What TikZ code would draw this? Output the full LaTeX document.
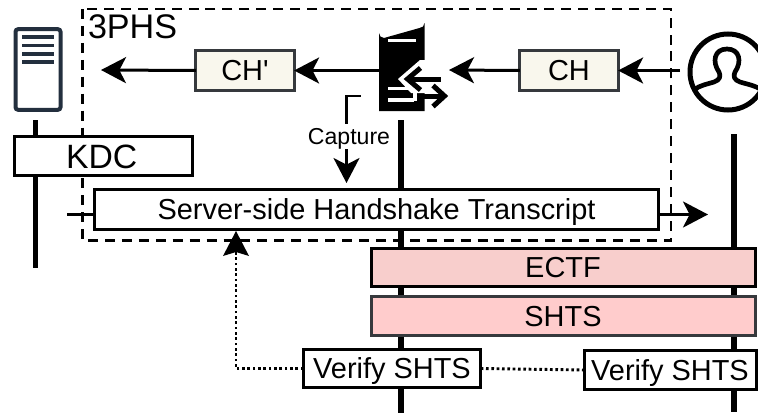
\documentclass[tikz,border=0pt]{standalone}
\usepackage{fontspec}
\setmainfont{Liberation Sans}
\usetikzlibrary{arrows.meta}
\definecolor{creamfill}{HTML}{F9F7ED}
\definecolor{greystroke}{HTML}{36393D}
\definecolor{ectffill}{HTML}{F8CECC}
\definecolor{shtsfill}{HTML}{FFCCCC}
\definecolor{awsnavy}{HTML}{232F3E}
\tikzset{
  tbox/.style={draw=black,line width=2.25pt,fill=white,inner sep=0pt,outer sep=0pt,text height=15.6pt,text depth=0pt,font=\fontsize{21.7}{24}\selectfont},
  msgbox/.style={tbox,draw=greystroke,fill=creamfill,minimum width=73.7pt,minimum height=30pt},
  keybox/.style={tbox,minimum width=288pt,minimum height=29pt},
  verbox/.style={tbox,minimum height=29.2pt},
  flow/.style={line width=2.25pt,-{Stealth[length=18.75pt,width=19.5pt,inset=5pt]}},
  lifeline/.style={line width=4.4pt,black},
  dotflow/.style={line width=2.2pt,dash pattern=on 2pt off 2pt},
  scopebox/.style={line width=2.1pt,dash pattern=on 7.5pt off 5.2pt},
  ghost/.style={inner sep=0pt,outer sep=0pt}
}
\begin{document}
\begin{tikzpicture}[x=0.75pt,y=-0.75pt]
\useasboundingbox (0,0) rectangle (758,414);
\clip (0,0) rectangle (758,414);
% outer dashed frame
\draw[scopebox] (82.5,9) rectangle (671,240.5);
\node[ghost,anchor=base west,font=\fontsize{25.6}{28}\selectfont] (phs) at (88,38) {3PHS};
% lifeline end points
\coordinate (kdcTop) at (35.5,120);
\coordinate (kdcEnd) at (35.5,268);
\coordinate (srvTop) at (400.7,120);
\coordinate (srvEnd) at (400.7,413);
\coordinate (usrTop) at (733.7,134);
\coordinate (usrEnd) at (733.7,412);
\draw[lifeline] (kdcTop) -- (kdcEnd);
\draw[lifeline] (srvTop) -- (srvEnd);
\draw[lifeline] (usrTop) -- (usrEnd);
% KDC icon
\node[ghost,draw=awsnavy,line width=3pt,rounded corners=2pt,minimum width=33.75pt,minimum height=60.5pt,fill=white] (kdcIcon) at (38,69.5) {};
\foreach \yy in {37,45.3,54,62.2}
  \draw[awsnavy,line width=2.6pt] (22,\yy) -- (54,\yy);
% server icon
\node[ghost,minimum width=33.75pt,minimum height=62pt] (srv) at (401.5,70) {};
\fill[black] (379,111) -- (379,33) arc[start angle=180,end angle=90,radius=5] -- (419.5,28) arc[start angle=90,end angle=0,radius=5] -- (424.5,111) -- cycle;
\draw[white,line width=2.7pt] (388,40.5) -- (416,40.5);
\fill[white] (426,60) -- (420,60) -- (398,79) -- (411,93) -- (426,93) -- cycle;
\draw[white,line width=2.4pt] (388,88.5) -- (414,88.5);
\draw[white,line width=2.4pt] (388,100) -- (414,100);
\fill[white] (413,87) rectangle (417,101.2);
\draw[black,line width=3.75pt] (410,79) -- (441,79);
\draw[black,line width=3.75pt,miter limit=10] (420.5,68) -- (407.5,79) -- (420.5,90);
\draw[black,line width=3.75pt] (417,96) -- (443,96);
\draw[black,line width=3.75pt,miter limit=10] (433,85.5) -- (444.5,96) -- (433,106.5);
% user icon
\node[ghost,circle,minimum size=72pt] (usr) at (728,72) {};
\draw[black,line width=3.75pt] (728,72) circle[radius=38];
\draw[black,line width=3.5pt,line join=round] (694,90)
  .. controls (700,85) and (708,84) .. (714,82)
  .. controls (720,80) and (721,76) .. (719,72)
  .. controls (712,62) and (714,49) .. (727,49)
  .. controls (740,49) and (742,62) .. (735,72)
  .. controls (733,76) and (734,80) .. (740,82)
  .. controls (746,84) and (754,85) .. (762,90);
% boxes
\node[msgbox] (chp) at (245,70.5) {CH\textquotesingle};
\node[msgbox] (ch) at (569,70.5) {CH};
\coordinate (srvIn) at (449,70);
\coordinate (kdcIn) at (101,70);
\draw[flow] (chp.west) -- (kdcIn);
\draw[flow] (srv.west |- chp.east) -- (chp.east);
\draw[flow] (ch.west) -- (srvIn);
\draw[flow] (usr.west |- ch.east) -- (ch.east);
% transcript
\coordinate (stubL) at (67,214.5);
\coordinate (stubR) at (708,214.5);
\draw[flow] (stubL) -- (stubR);
\node[tbox,minimum width=423.7pt,minimum height=30pt] (trans) at (376.5,209) {Server-side Handshake Transcript};
\node[tbox,minimum width=133.5pt,minimum height=29.2pt,font=\fontsize{25.3}{28}\selectfont,text height=18pt] (kdc) at (103,156) {KDC\kern2pt};
% capture
\coordinate (capStart) at (360.5,96);
\coordinate (capTip) at (346.5,183);
\draw[line width=1.9pt,-{Stealth[length=18.75pt,width=19.5pt,inset=5pt]}] (capStart) -- (capTip |- capStart) -- (capTip);
\node[ghost,fill=white,inner xsep=0pt,inner ysep=3pt,text height=12.6pt,text depth=0pt,font=\fontsize{17.3}{20}\selectfont] (cap) at (349,136.5) {Capture};
% key schedule
\node[keybox,fill=ectffill] (ectf) at (563,267.5) {ECTF};
\node[keybox,fill=shtsfill,draw=greystroke] (shts) at (563,316) {SHTS};
\node[verbox,minimum width=133pt] (v1) at (392,368.5) {Verify SHTS};
\node[verbox,minimum width=129pt] (v2) at (670,370) {Verify SHTS};
\draw[dotflow] (v1.east) -- (v2.west);
\coordinate (vTip) at (236,231);
\coordinate (vNeck) at (236,252);
\draw[dotflow] (v1.west) -- (vTip |- v1.west) -- (vNeck);
\fill[black] (vTip) -- (249,256) -- (vNeck) -- (223,256) -- cycle;
\end{tikzpicture}
\end{document}
